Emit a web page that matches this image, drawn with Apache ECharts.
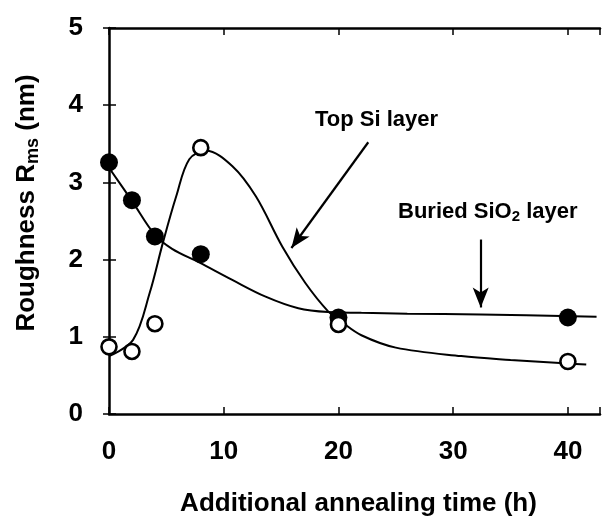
<!DOCTYPE html>
<html>
<head>
<meta charset="utf-8">
<script src="https://cdn.jsdelivr.net/npm/echarts@6/dist/echarts.min.js"></script>
<style>
  html, body { margin: 0; padding: 0; background: #fff; }
  #chart { width: 603px; height: 524px; }
</style>
</head>
<body>
<div id="chart"></div>
<script>
// Axis ticks
const timeTicks = [0, 10, 20, 30, 40];
const roughTicks = [0, 1, 2, 3, 4, 5];

// Measured RMS roughness (nm) after additional annealing (h)
const sampleTime = [0, 2, 4, 8, 20, 40];
const topSi = [0.87, 0.81, 1.17, 3.45, 1.16, 0.68];
const buriedSiO2 = [3.26, 2.77, 2.30, 2.07, 1.25, 1.25];

// Guide-to-the-eye curves
const topSiCurveTime = [0, 2.1, 3.55, 4.7, 5.86, 7.0, 8.46, 10.76, 12.8, 15.1, 17.1, 19.1, 20.3, 22, 25, 30.7, 35, 39.3, 41.6];
const topSiCurve = [0.75, 0.96, 1.57, 2.22, 2.82, 3.30, 3.41, 3.21, 2.82, 2.17, 1.70, 1.33, 1.19, 1.02, 0.86, 0.75, 0.70, 0.66, 0.64];
const buriedCurveTime = [0, 2, 4, 5.5, 7.9, 10.7, 13.65, 16.5, 19.1, 22, 26, 32.4, 42.5];
const buriedCurve = [3.19, 2.76, 2.32, 2.14, 1.96, 1.74, 1.52, 1.37, 1.32, 1.31, 1.30, 1.29, 1.26];

// Annotation arrows (data coordinates: tail, head)
const topSiArrow = [[22.6, 3.52], [15.9, 2.15]];
const buriedArrow = [[32.4, 2.26], [32.4, 1.38]];

const zip = (xs, ys) => xs.map((x, i) => [x, ys[i]]);

const FONT = 'Liberation Sans, Arial, Helvetica, sans-serif';
const INK = '#000';

const chart = echarts.init(document.getElementById('chart'), null, { renderer: 'canvas' });

const axisBase = {
  type: 'value',
  splitLine: { show: false },
  axisLine: { show: true, onZero: false, lineStyle: { color: INK, width: 2.5 } },
  axisTick: { show: true, inside: true, length: 7, lineStyle: { color: INK, width: 1.5 } },
};

chart.setOption({
  animation: false,
  backgroundColor: '#fff',
  grid: { left: 109, top: 28, right: 0, bottom: 110, containLabel: false },
  xAxis: [
    Object.assign({}, axisBase, {
      position: 'bottom',
      min: 0, max: 42.8, interval: 10,
      axisLabel: {
        margin: 25, color: INK, fontFamily: FONT, fontSize: 26, fontWeight: 'bold',
        formatter: v => (timeTicks.includes(v) ? String(v) : '')
      },
      name: 'Additional annealing time (h)',
      nameLocation: 'middle',
      nameGap: 77,
      nameTextStyle: { color: INK, fontFamily: FONT, fontSize: 26, fontWeight: 'bold', padding: [0, 0, 0, 8] }
    }),
    Object.assign({}, axisBase, {
      position: 'top',
      min: 0, max: 42.8, interval: 10,
      axisLabel: { show: false }
    })
  ],
  yAxis: [
    Object.assign({}, axisBase, {
      position: 'left',
      min: 0, max: 5, interval: 1,
      axisLabel: {
        margin: 26, color: INK, fontFamily: FONT, fontSize: 26, fontWeight: 'bold',
        formatter: v => (roughTicks.includes(v) ? String(v) : '')
      },
      name: 'Roughness R{sub|ms} (nm)',
      nameLocation: 'middle',
      nameGap: 67,
      nameRotate: 90,
      nameTextStyle: {
        color: INK, fontFamily: FONT, fontSize: 26, fontWeight: 'bold',
        padding: [0, 0, 0, 36],
        rich: {
          sub: { fontFamily: FONT, fontSize: 18, fontWeight: 'bold', color: INK, verticalAlign: 'bottom', padding: [12, 0, 0, 0] }
        }
      }
    }),
    Object.assign({}, axisBase, {
      position: 'right',
      min: 0, max: 5, interval: 1,
      axisLine: { show: false },
      axisTick: { show: true, inside: true, length: 6, lineStyle: { color: INK, width: 1.5 } },
      axisLabel: { show: false }
    })
  ],
  series: [
    {
      name: 'Buried SiO2 curve',
      type: 'line',
      data: zip(buriedCurveTime, buriedCurve),
      smooth: 0.35,
      showSymbol: false,
      lineStyle: { color: INK, width: 2 },
      z: 2
    },
    {
      name: 'Top Si curve',
      type: 'line',
      data: zip(topSiCurveTime, topSiCurve),
      smooth: 0.35,
      showSymbol: false,
      lineStyle: { color: INK, width: 2 },
      z: 2
    },
    {
      name: 'Buried SiO2 layer',
      type: 'scatter',
      data: zip(sampleTime, buriedSiO2),
      symbol: 'circle',
      symbolSize: 18,
      clip: false,
      itemStyle: { color: INK, opacity: 1 },
      z: 3
    },
    {
      name: 'Top Si layer',
      type: 'scatter',
      data: zip(sampleTime, topSi),
      symbol: 'circle',
      symbolSize: 15,
      clip: false,
      itemStyle: { color: '#fff', borderColor: INK, borderWidth: 2.6, opacity: 1 },
      z: 4
    },
    {
      name: 'annotations',
      type: 'line',
      data: [],
      silent: true,
      markLine: {
        silent: true,
        symbol: ['none', 'arrow'],
        symbolSize: [12, 20],
        label: { show: false },
        lineStyle: { color: INK, width: 2.2, type: 'solid' },
        data: [
          [{ coord: topSiArrow[0] }, { coord: topSiArrow[1] }],
          [{ coord: buriedArrow[0] }, { coord: buriedArrow[1] }]
        ]
      }
    }
  ],
  graphic: [
    {
      type: 'text',
      left: 315, top: 109,
      style: { text: 'Top Si layer', fill: INK, font: 'bold 22px ' + FONT }
    },
    {
      type: 'text',
      left: 398, top: 201,
      style: {
        text: 'Buried SiO{sub|2} layer',
        fill: INK,
        font: 'bold 22px ' + FONT,
        rich: {
          sub: { font: 'bold 15px ' + FONT, fill: INK, padding: [10, 0, 0, 0] }
        }
      }
    }
  ]
});
</script>
</body>
</html>
